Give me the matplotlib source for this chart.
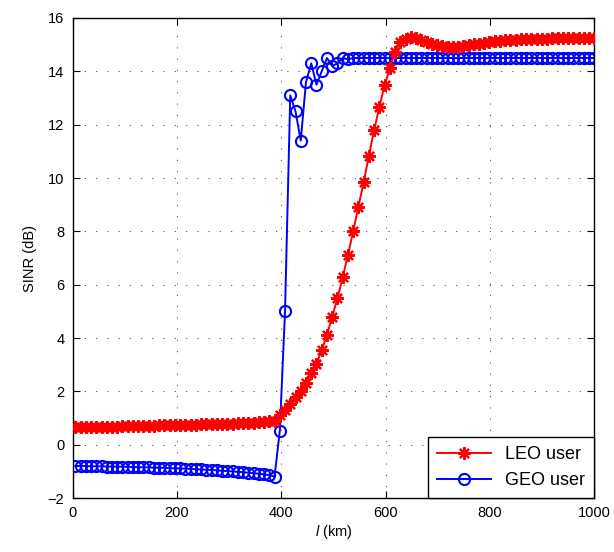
import matplotlib.pyplot as plt
import numpy as np

# distance l (km), 100 samples
l_km = np.linspace(5, 1000, 100)

leo_sinr = [
    0.65, 0.65, 0.66, 0.66, 0.67, 0.67, 0.67, 0.68, 0.68, 0.69,
    0.69, 0.70, 0.70, 0.70, 0.71, 0.71, 0.72, 0.72, 0.73, 0.73,
    0.74, 0.74, 0.75, 0.75, 0.76, 0.76, 0.77, 0.77, 0.78, 0.79,
    0.79, 0.80, 0.81, 0.82, 0.83, 0.84, 0.85, 0.87, 0.90,
    1.11, 1.30, 1.53, 1.78, 2.03, 2.33, 2.68, 3.02, 3.55, 4.11,
    4.80, 5.49, 6.28, 7.11,
    8.00, 8.93, 9.84, 10.84, 11.80, 12.67,
    13.49, 14.11, 14.74, 15.11,
    15.22, 15.28, 15.25, 15.18, 15.10, 15.02,
    14.97, 14.94, 14.92, 14.92, 14.93, 14.95, 14.98, 15.01, 15.04, 15.07,
    15.10, 15.12, 15.14, 15.16, 15.18, 15.19, 15.20, 15.21, 15.22, 15.22,
    15.23, 15.23, 15.24, 15.24, 15.24, 15.25, 15.25, 15.25, 15.25, 15.25, 15.26,
]

geo_sinr = [
    -0.80, -0.80, -0.80, -0.81, -0.81, -0.81, -0.82, -0.82, -0.82, -0.83,
    -0.83, -0.84, -0.84, -0.85, -0.85, -0.86, -0.86, -0.87, -0.88, -0.89,
    -0.89, -0.90, -0.91, -0.92, -0.93, -0.94, -0.95, -0.96, -0.98, -0.99,
    -1.00, -1.02, -1.03, -1.05, -1.07, -1.09, -1.11, -1.14, -1.20,
    0.50, 5.00, 13.10, 12.50, 11.40, 13.60, 14.30, 13.50, 14.00, 14.50,
    14.20, 14.30, 14.50, 14.45,
    14.50, 14.50, 14.50, 14.50, 14.50, 14.50, 14.50, 14.50, 14.50, 14.50,
    14.50, 14.50, 14.50, 14.50, 14.50, 14.50, 14.50, 14.50, 14.50, 14.50,
    14.50, 14.50, 14.50, 14.50, 14.50, 14.50, 14.50, 14.50, 14.50, 14.50,
    14.50, 14.50, 14.50, 14.50, 14.50, 14.50, 14.50, 14.50, 14.50, 14.50,
    14.50, 14.50, 14.50, 14.50, 14.50, 14.50, 14.50,
]

x_ticks = [0, 200, 400, 600, 800, 1000]
y_ticks = [-2, 0, 2, 4, 6, 8, 10, 12, 14, 16]

plt.rcParams['font.family'] = ['Liberation Sans', 'DejaVu Sans']
plt.rcParams['mathtext.fontset'] = 'custom'
plt.rcParams['mathtext.it'] = 'Liberation Sans:italic'
plt.rcParams['mathtext.rm'] = 'Liberation Sans'

fig = plt.figure(figsize=(6.14, 5.52), dpi=100)
ax = fig.add_axes([0.1184, 0.0978, 0.8496, 0.8696])

# MATLAB 風のアスタリスク
ax.plot(l_km, leo_sinr, color='red', linestyle='-', linewidth=1.4,
        marker=(8, 2, 0), markersize=9, markeredgewidth=1.6,
        label='LEO user', zorder=3)
ax.plot(l_km, geo_sinr, color='blue', linestyle='-', linewidth=1.4,
        marker='o', markersize=8, markerfacecolor='none',
        markeredgewidth=1.5, label='GEO user', zorder=2)

ax.set_xlim(0, 1000)
ax.set_ylim(-2, 16)
ax.set_xticks(x_ticks)
ax.set_yticks(y_ticks)
ax.tick_params(direction='in', top=True, right=True, length=5,
               labelsize=10.5, pad=6)
ax.grid(True, color='0.25', linestyle=(0, (1.5, 12)), linewidth=0.6)
for s in ax.spines.values():
    s.set_linewidth(1.0)

ax.set_xlabel(r'$l$ (km)', fontsize=10.5, labelpad=2)
ax.set_ylabel('SINR (dB)', fontsize=10.5, labelpad=8)

leg = ax.legend(loc='lower right', fontsize=13, fancybox=False,
                framealpha=1, edgecolor='black', borderaxespad=0,
                handlelength=3.0, borderpad=0.5, labelspacing=0.5)
leg.get_frame().set_linewidth(1.0)

plt.savefig('out.png', dpi=100)
